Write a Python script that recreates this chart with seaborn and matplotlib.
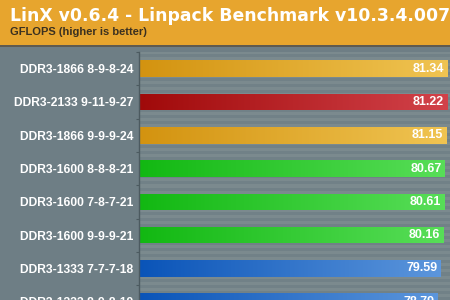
import numpy as np
import matplotlib
matplotlib.use("Agg")
import matplotlib.pyplot as plt
from matplotlib.patches import Rectangle
from matplotlib.colors import LinearSegmentedColormap, ListedColormap
import seaborn as sns

# ---- data ----
title = "LinX v0.6.4 - Linpack Benchmark v10.3.4.007"
subtitle = "GFLOPS (higher is better)"
labels = ["DDR3-1866 8-9-8-24", "DDR3-2133 9-11-9-27", "DDR3-1866 9-9-9-24",
          "DDR3-1600 8-8-8-21", "DDR3-1600 7-8-7-21", "DDR3-1600 9-9-9-21",
          "DDR3-1333 7-7-7-18", "DDR3-1333 8-9-8-19"]
values = [81.34, 81.22, 81.15, 80.67, 80.61, 80.16, 79.59, 78.79]
groups = ["orange", "red", "orange", "green", "green", "green", "blue", "blue"]

grad = {
    "orange": ("#d39310", "#f0c452"),
    "red": ("#a00a0a", "#d2424a"),
    "green": ("#12b812", "#58de58"),
    "blue": ("#0a54b8", "#5c96dc"),
}
palette = {k: v[0] for k, v in grad.items()}

sns.set_theme(style="white")
plt.rcParams["font.family"] = ["Liberation Sans", "DejaVu Sans"]

W, H = 450, 300
fig = plt.figure(figsize=(4.5, 3.0), dpi=100)
fig.patch.set_facecolor("#6e7e85")

# header band
band_h = 45
fig.patches.append(Rectangle((0, 1 - band_h / H), 1, band_h / H,
                             transform=fig.transFigure, facecolor="#e7a52e",
                             edgecolor="none", zorder=0))
fig.patches.append(Rectangle((0, 1 - (band_h + 2) / H), 1, 2 / H,
                             transform=fig.transFigure, facecolor="#5e5a50",
                             edgecolor="none", zorder=0))
fig.text(10 / W, 1 - 21 / H, title, color="white", fontsize=12.4,
         fontweight="bold", family=["DejaVu Sans"], va="baseline", ha="left")
fig.text(10 / W, 1 - 35 / H, subtitle, color="#3a3020", fontsize=8,
         fontweight="bold", va="baseline", ha="left")

# axes extends below the figure so the last bar is cut like the reference
ax_left, ax_top = 139, 52
step = 33.3
ax_h = step * len(labels)
ax_bottom = H - ax_top - ax_h
ax = fig.add_axes([ax_left / W, ax_bottom / H, (W - ax_left) / W, ax_h / H])
ax.set_facecolor("#76868a")

# striped background
n_str = int(ax_h // 3)
stripes = np.tile([0, 1], n_str)[: n_str].reshape(-1, 1)
ax.imshow(stripes, cmap=ListedColormap(["#7b8a8e", "#718187"]),
          extent=(0, 1, 0, 1), transform=ax.transAxes, aspect="auto",
          interpolation="nearest", zorder=0)

sns.barplot(x=values, y=labels, hue=groups, palette=palette, dodge=False,
            legend=False, width=0.5, ax=ax, orient="h", saturation=1,
            linewidth=0)

# gradient fills
for p in ax.patches:
    if p.get_width() <= 0:
        continue
    idx = int(round(p.get_y() + p.get_height() / 2))
    c0, c1 = grad[groups[idx]]
    cmap = LinearSegmentedColormap.from_list("g", [c0, c1])
    x0, y0 = p.get_x(), p.get_y()
    w, h = p.get_width(), p.get_height()
    im = ax.imshow(np.linspace(0, 1, 256).reshape(1, -1), cmap=cmap,
                   extent=(x0, x0 + w, y0 + h, y0), aspect="auto", zorder=2)
    im.set_clip_path(p)
    p.set_zorder(1)

for i, v in enumerate(values):
    ax.annotate(f"{v:.2f}", xy=(v, i), xytext=(-2.5, 0),
                textcoords="offset points", ha="right", va="center",
                color="white", fontsize=9, fontweight="bold", zorder=5,
                annotation_clip=False)

ax.set_xlabel("")
ax.set_ylabel("")
ax.set_xticks([])
ax.tick_params(axis="y", which="major", length=0, pad=4.3,
               labelcolor="white", labelsize=8.7)
for t in ax.get_yticklabels():
    t.set_fontweight("bold")
ax.set_yticks(np.arange(-0.5, len(labels), 1.0), minor=True)
ax.tick_params(axis="y", which="minor", length=2.5, width=0.8,
               color="#4c5a60", left=True)
for s in ["top", "right", "bottom"]:
    ax.spines[s].set_visible(False)
ax.spines["left"].set_color("#4c5a60")
ax.spines["left"].set_linewidth(1)

ax.set_xlim(0, 82.0)
ax.set_ylim(len(labels) - 0.5, -0.5)

fig.savefig("out.png", dpi=100, facecolor=fig.get_facecolor())
